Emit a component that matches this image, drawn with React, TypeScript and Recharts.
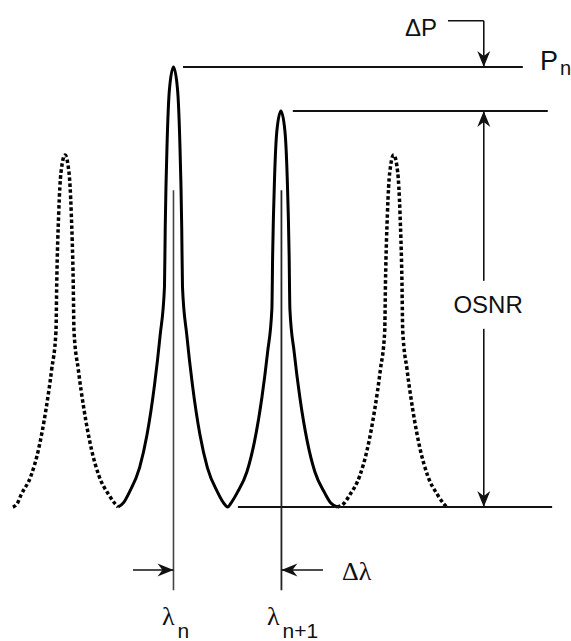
import React from 'react';
import { ComposedChart, Line, XAxis, YAxis, ReferenceLine, ReferenceDot } from 'recharts';

type Pt = { lambda: number; power: number };

// Spectrum traces (relative wavelength offset, relative power)
const channelPrev: Pt[] = [
  { lambda: -148, power: 0 }, { lambda: -144, power: 0.08 }, { lambda: -140.6, power: 0.27 },
  { lambda: -131.3, power: 0.71 }, { lambda: -124.4, power: 1.31 }, { lambda: -117.5, power: 2.22 },
  { lambda: -112.3, power: 3.12 }, { lambda: -108.3, power: 4.0 }, { lambda: -107.6, power: 5.09 },
  { lambda: -105.8, power: 6.67 }, { lambda: -103.7, power: 7.6 }, { lambda: -100, power: 8 },
  { lambda: -96.3, power: 7.6 }, { lambda: -94.2, power: 6.67 }, { lambda: -92.4, power: 5.09 },
  { lambda: -91.7, power: 4.0 }, { lambda: -87.7, power: 3.12 }, { lambda: -82.5, power: 2.22 },
  { lambda: -75.6, power: 1.31 }, { lambda: -68.7, power: 0.71 }, { lambda: -59.4, power: 0.27 },
  { lambda: -54, power: 0.08 }, { lambda: -51, power: 0 },
];

const channelsMain: Pt[] = [
  { lambda: -51, power: 0 }, { lambda: -46, power: 0.1 }, { lambda: -40.6, power: 0.34 },
  { lambda: -31.3, power: 0.89 }, { lambda: -24.4, power: 1.64 }, { lambda: -17.5, power: 2.77 },
  { lambda: -12.3, power: 3.9 }, { lambda: -8.3, power: 5.0 }, { lambda: -7.6, power: 6.36 },
  { lambda: -5.8, power: 8.34 }, { lambda: -3.7, power: 9.5 }, { lambda: 0, power: 10 },
  { lambda: 3.7, power: 9.5 }, { lambda: 5.8, power: 8.34 }, { lambda: 7.6, power: 6.36 },
  { lambda: 8.3, power: 5.0 }, { lambda: 12.3, power: 3.9 }, { lambda: 17.5, power: 2.77 },
  { lambda: 24.4, power: 1.64 }, { lambda: 31.3, power: 0.89 }, { lambda: 40.6, power: 0.34 },
  { lambda: 46, power: 0.1 }, { lambda: 50, power: 0 }, { lambda: 53, power: 0.09 },
  { lambda: 58.4, power: 0.31 }, { lambda: 67.7, power: 0.8 }, { lambda: 74.6, power: 1.48 },
  { lambda: 81.5, power: 2.49 }, { lambda: 86.7, power: 3.51 }, { lambda: 90.7, power: 4.5 },
  { lambda: 91.4, power: 5.72 }, { lambda: 93.2, power: 7.51 }, { lambda: 95.3, power: 8.55 },
  { lambda: 99, power: 9 }, { lambda: 102.7, power: 8.55 }, { lambda: 104.8, power: 7.51 },
  { lambda: 106.6, power: 5.72 }, { lambda: 107.3, power: 4.5 }, { lambda: 111.3, power: 3.51 },
  { lambda: 116.5, power: 2.49 }, { lambda: 123.4, power: 1.48 }, { lambda: 130.3, power: 0.8 },
  { lambda: 139.6, power: 0.31 }, { lambda: 145, power: 0.09 }, { lambda: 151, power: 0 },
];

const channelNext: Pt[] = [
  { lambda: 151, power: 0 }, { lambda: 157, power: 0.08 }, { lambda: 162.4, power: 0.27 },
  { lambda: 171.7, power: 0.71 }, { lambda: 178.6, power: 1.31 }, { lambda: 185.5, power: 2.22 },
  { lambda: 190.7, power: 3.12 }, { lambda: 194.7, power: 4.0 }, { lambda: 195.4, power: 5.09 },
  { lambda: 197.2, power: 6.67 }, { lambda: 199.3, power: 7.6 }, { lambda: 203, power: 8 },
  { lambda: 206.7, power: 7.6 }, { lambda: 208.8, power: 6.67 }, { lambda: 210.6, power: 5.09 },
  { lambda: 211.3, power: 4.0 }, { lambda: 215.3, power: 3.12 }, { lambda: 220.5, power: 2.22 },
  { lambda: 227.4, power: 1.31 }, { lambda: 234.3, power: 0.71 }, { lambda: 243.6, power: 0.27 },
  { lambda: 249, power: 0.08 }, { lambda: 252, power: 0 },
];

// Annotation values
const levelPn = 10;
const levelPn1 = 9;
const levelFloor = 0;
const levelDeltaP = 11.05;
const lambdaN = 0;
const lambdaN1 = 99.5;
const osnrX = 286;
const osnrGapTop = 5.14;
const osnrGapBottom = 4.05;
const markerTop = 7.2;
const markerBottom = -1.89;
const deltaLambdaLevel = -1.43;
const pnLineStart = 8.8;
const pnLineEnd = 322;
const pn1LineStart = 110;
const pn1LineEnd = 345;
const floorLineStart = 59.4;
const floorLineEnd = 349;
const dlLeftTail = -37.3;
const dlRightTail = 137.8;
const dpTail = 253;

const xDomain: [number, number] = [-159.9, 366.4];
const yDomain: [number, number] = [-3.045, 11.523];

const INK = '#111';

function arrowHead(x1: number, y1: number, x2: number, y2: number) {
  const dx = x2 - x1;
  const dy = y2 - y1;
  const len = Math.sqrt(dx * dx + dy * dy) || 1;
  const ux = dx / len;
  const uy = dy / len;
  const L = 16;
  const W = 6.5;
  const N = 5;
  const bx = x2 - ux * L;
  const by = y2 - uy * L;
  const px = -uy;
  const py = ux;
  const nx = x2 - ux * (L - N);
  const ny = y2 - uy * (L - N);
  return `${x2},${y2} ${bx + px * W},${by + py * W} ${nx},${ny} ${bx - px * W},${by - py * W}`;
}

const plainSeg = (color: string, width: number) => (p: any) => (
  <line x1={p.x1} y1={p.y1} x2={p.x2} y2={p.y2} stroke={color} strokeWidth={width} />
);

const arrowSeg = (p: any) => (
  <g>
    <line x1={p.x1} y1={p.y1} x2={p.x2} y2={p.y2} stroke={INK} strokeWidth={1.6} />
    <polygon points={arrowHead(p.x1, p.y1, p.x2, p.y2)} fill={INK} />
  </g>
);

const label = (content: React.ReactNode, anchor: 'start' | 'middle' | 'end', family: string, size: number) => (p: any) => (
  <text x={p.cx} y={p.cy} textAnchor={anchor} fontFamily={family} fontSize={size} fill={INK}>
    {content}
  </text>
);

const SANS = '"Liberation Sans", Arial, sans-serif';
const SERIF = '"Liberation Serif", "Times New Roman", serif';

export default function App() {
  return (
    <div style={{ position: 'absolute', left: 0, top: 0, width: 571, height: 641, background: '#fff' }}>
      <ComposedChart width={571} height={641} margin={{ top: 0, right: 0, bottom: 0, left: 0 }}>
        <XAxis type="number" dataKey="lambda" domain={xDomain} hide allowDataOverflow />
        <YAxis type="number" dataKey="power" domain={yDomain} hide allowDataOverflow />

        <Line data={channelPrev} dataKey="power" type="monotone" stroke="#000" strokeWidth={3.5}
          strokeDasharray="3.5 2.5" dot={false} activeDot={false} isAnimationActive={false} />
        <Line data={channelsMain} dataKey="power" type="monotone" stroke="#000" strokeWidth={3}
          dot={false} activeDot={false} isAnimationActive={false} />
        <Line data={channelNext} dataKey="power" type="monotone" stroke="#000" strokeWidth={3.5}
          strokeDasharray="3.5 2.5" dot={false} activeDot={false} isAnimationActive={false} />

        <ReferenceLine segment={[{ x: pnLineStart, y: levelPn }, { x: pnLineEnd, y: levelPn }]} shape={plainSeg(INK, 1.8)} />
        <ReferenceLine segment={[{ x: pn1LineStart, y: levelPn1 }, { x: pn1LineEnd, y: levelPn1 }]} shape={plainSeg(INK, 1.8)} />
        <ReferenceLine segment={[{ x: floorLineStart, y: levelFloor }, { x: floorLineEnd, y: levelFloor }]} shape={plainSeg(INK, 1.8)} />

        <ReferenceLine segment={[{ x: lambdaN, y: markerTop }, { x: lambdaN, y: markerBottom }]} shape={plainSeg('#444', 1.6)} />
        <ReferenceLine segment={[{ x: lambdaN1, y: markerTop }, { x: lambdaN1, y: markerBottom }]} shape={plainSeg('#222', 1.8)} />

        <ReferenceLine segment={[{ x: dlLeftTail, y: deltaLambdaLevel }, { x: lambdaN, y: deltaLambdaLevel }]} shape={arrowSeg} />
        <ReferenceLine segment={[{ x: dlRightTail, y: deltaLambdaLevel }, { x: lambdaN1, y: deltaLambdaLevel }]} shape={arrowSeg} />

        <ReferenceLine segment={[{ x: osnrX, y: osnrGapTop }, { x: osnrX, y: levelPn1 }]} shape={arrowSeg} />
        <ReferenceLine segment={[{ x: osnrX, y: osnrGapBottom }, { x: osnrX, y: levelFloor }]} shape={arrowSeg} />

        <ReferenceLine segment={[{ x: dpTail, y: levelDeltaP }, { x: osnrX, y: levelDeltaP }]} shape={plainSeg(INK, 1.6)} />
        <ReferenceLine segment={[{ x: osnrX, y: levelDeltaP }, { x: osnrX, y: levelPn }]} shape={arrowSeg} />

        <ReferenceDot x={243} y={10.7} r={0} shape={label('ΔP', 'end', SANS, 24)} />
        <ReferenceDot x={337.8} y={9.93} r={0} shape={label(
          <>P<tspan dx={2} dy={5} fontSize={20}>n</tspan></>, 'start', SANS, 27)} />
        <ReferenceDot x={290} y={4.41} r={0} shape={label('OSNR', 'middle', SANS, 24)} />
        <ReferenceDot x={155.3} y={-1.66} r={0} shape={label('Δλ', 'start', SERIF, 26)} />
        <ReferenceDot x={-10.6} y={-2.68} r={0} shape={label(
          <>λ<tspan dx={3} dy={13} fontSize={21} fontFamily={SANS}>n</tspan></>, 'start', SERIF, 26)} />
        <ReferenceDot x={86.2} y={-2.68} r={0} shape={label(
          <>λ<tspan dx={3} dy={13} fontSize={21} fontFamily={SANS}>n+1</tspan></>, 'start', SERIF, 26)} />
      </ComposedChart>
    </div>
  );
}
